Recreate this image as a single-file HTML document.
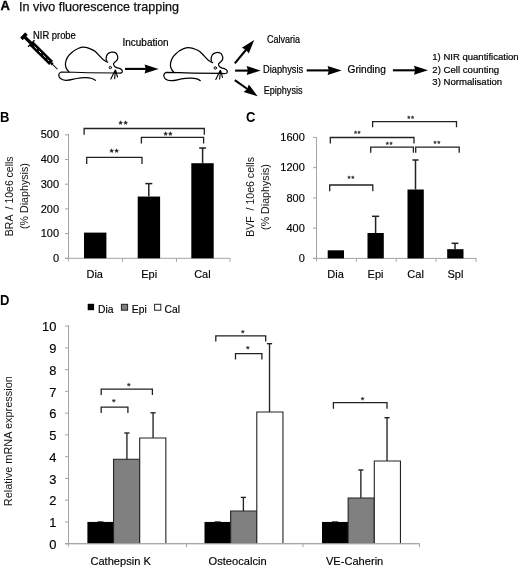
<!DOCTYPE html>
<html lang="en"><head><meta charset="utf-8"><title>Figure</title>
<style>
html,body{margin:0;padding:0;background:#fff;}
body{width:520px;height:569px;overflow:hidden;}
svg{display:block;will-change:transform;font-family:"Liberation Sans",sans-serif;}
</style></head><body>
<svg width="520" height="569" viewBox="0 0 520 569">
<rect width="520" height="569" fill="#fff"/>
<text x="0.5" y="10.3" font-size="13" text-anchor="start" font-weight="bold" fill="#000" stroke="#000" stroke-width="0.35">A</text>
<text x="19" y="11.3" font-size="12.2" text-anchor="start" font-weight="normal" fill="#111" textLength="160" lengthAdjust="spacingAndGlyphs" stroke="#111" stroke-width="0.25">In vivo fluorescence trapping</text>
<text x="33" y="38.5" font-size="10" text-anchor="start" font-weight="normal" fill="#000" textLength="42.8" lengthAdjust="spacingAndGlyphs" stroke="#000" stroke-width="0.2">NIR probe</text>
<text x="122.5" y="45.6" font-size="10" text-anchor="start" font-weight="normal" fill="#000" textLength="46" lengthAdjust="spacingAndGlyphs" stroke="#000" stroke-width="0.2">Incubation</text>
<g transform="translate(24.0,36.3) rotate(44.5)"><rect x="-1.9" y="-3.7" width="3.6" height="7.4" rx="0.6" fill="#000"/><rect x="0" y="-1.6" width="11" height="3.2" fill="#000"/><rect x="9.6" y="-4.6" width="1.3" height="9.2" fill="#000"/><rect x="10.4" y="-2.8" width="27.6" height="5.6" fill="#000"/><line x1="14.5" y1="0" x2="35" y2="0" stroke="#e8e8e8" stroke-width="0.85" stroke-dasharray="3.6 2.6"/><rect x="38" y="-1.3" width="2.2" height="2.6" fill="#000"/><line x1="40" y1="0" x2="47" y2="0" stroke="#000" stroke-width="1"/></g>
<g transform="translate(0,0)" fill="none" stroke="#000" stroke-width="1.25" stroke-linecap="round" stroke-linejoin="round"><path d="M68.8 71.8 C66.5 69.5 65 66.5 65.5 63.1 C66.2 59 68 56 70.4 53.8 C73 51 75.5 49.5 78.1 48.5 C80 47.7 81.8 47.2 83.5 47.2 C86 47.2 88.3 47.8 90.4 48.9 C92.2 49.7 93.7 50.4 95 51.3 C96.6 52.6 97.9 54.1 99.2 55.5 C100.6 57 101.9 58.5 103.4 59.8 C104.8 60.9 106.2 61.7 107.7 62.2"/><path d="M106.6 60.5 C106 59.6 105.9 58.6 106.2 57.6 C106.4 56.3 106.9 55.1 107.6 54.1 C108.5 53.1 109.7 52.5 111.2 52.2 C112.4 51.9 113.6 52 114.7 52.4 C115.8 52.9 116.6 53.7 117.1 54.8 C117.7 55.8 117.9 56.9 117.8 58 C117.7 59.1 117.2 60 116.4 60.8 C115.8 61.5 115 62 114.3 62.6 C113.6 63.2 113.3 63.9 113.6 64.7 C113.8 65.4 114.1 65.9 114.7 66.4 C115.5 67 116.5 67.5 117.5 67.8 C118.6 68.1 119.7 68.4 120.6 68.9 C121.3 69.2 121.8 69.7 122.1 70.3 C122.4 70.9 122.4 71.5 122.1 72.1 C121.8 72.6 121.2 73 120.3 73.1 C119 73.2 117.5 73.1 116.1 73"/><path d="M116.1 73 C100 72.9 80 72.6 61.2 72 C59.8 72.4 59 73.4 58.8 74.7 C58.6 76.3 59.2 77.6 60.4 78.5 C61.8 79.6 63.6 80.2 65.8 80.3 C69.5 80.4 73 79.2 76.5 78.5 C79.6 77.9 82.7 77.6 85.8 77.7 C88 77.8 90 78 91.9 78.5 C93.2 78.9 94.3 79.5 95.3 80.3"/><circle cx="110.3" cy="67.5" r="1.2" stroke-width="1"/><path d="M115.2 70.2 L110.8 79 M115.4 70.2 L114.7 78.6 M115.6 70.2 L117.5 77 M114.6 72 L116.2 72 L115.4 70 Z" stroke-width="1.1" fill="#000"/></g>
<g transform="translate(105,0.4)" fill="none" stroke="#000" stroke-width="1.25" stroke-linecap="round" stroke-linejoin="round"><path d="M68.8 71.8 C66.5 69.5 65 66.5 65.5 63.1 C66.2 59 68 56 70.4 53.8 C73 51 75.5 49.5 78.1 48.5 C80 47.7 81.8 47.2 83.5 47.2 C86 47.2 88.3 47.8 90.4 48.9 C92.2 49.7 93.7 50.4 95 51.3 C96.6 52.6 97.9 54.1 99.2 55.5 C100.6 57 101.9 58.5 103.4 59.8 C104.8 60.9 106.2 61.7 107.7 62.2"/><path d="M106.6 60.5 C106 59.6 105.9 58.6 106.2 57.6 C106.4 56.3 106.9 55.1 107.6 54.1 C108.5 53.1 109.7 52.5 111.2 52.2 C112.4 51.9 113.6 52 114.7 52.4 C115.8 52.9 116.6 53.7 117.1 54.8 C117.7 55.8 117.9 56.9 117.8 58 C117.7 59.1 117.2 60 116.4 60.8 C115.8 61.5 115 62 114.3 62.6 C113.6 63.2 113.3 63.9 113.6 64.7 C113.8 65.4 114.1 65.9 114.7 66.4 C115.5 67 116.5 67.5 117.5 67.8 C118.6 68.1 119.7 68.4 120.6 68.9 C121.3 69.2 121.8 69.7 122.1 70.3 C122.4 70.9 122.4 71.5 122.1 72.1 C121.8 72.6 121.2 73 120.3 73.1 C119 73.2 117.5 73.1 116.1 73"/><path d="M116.1 73 C100 72.9 80 72.6 61.2 72 C59.8 72.4 59 73.4 58.8 74.7 C58.6 76.3 59.2 77.6 60.4 78.5 C61.8 79.6 63.6 80.2 65.8 80.3 C69.5 80.4 73 79.2 76.5 78.5 C79.6 77.9 82.7 77.6 85.8 77.7 C88 77.8 90 78 91.9 78.5 C93.2 78.9 94.3 79.5 95.3 80.3"/><circle cx="110.3" cy="67.5" r="1.2" stroke-width="1"/><path d="M115.2 70.2 L110.8 79 M115.4 70.2 L114.7 78.6 M115.6 70.2 L117.5 77 M114.6 72 L116.2 72 L115.4 70 Z" stroke-width="1.1" fill="#000"/></g>
<line x1="125" y1="68.9" x2="146.8" y2="68.9" stroke="#000" stroke-width="2.1" />
<polygon points="158.60,68.90 144.60,73.40 145.80,68.90 144.60,64.40" fill="#000"/>
<line x1="234.8" y1="63.4" x2="246.69" y2="49.0" stroke="#000" stroke-width="2.1" />
<polygon points="254.20,39.90 248.76,53.56 246.05,49.77 241.82,47.83" fill="#000"/>
<line x1="235.1" y1="70.6" x2="248.9" y2="70.6" stroke="#000" stroke-width="2.1" />
<polygon points="260.70,70.60 246.70,75.10 247.90,70.60 246.70,66.10" fill="#000"/>
<line x1="234.8" y1="80.2" x2="248.05" y2="89.51" stroke="#000" stroke-width="2.1" />
<polygon points="257.70,96.30 243.66,91.93 247.23,88.94 248.84,84.57" fill="#000"/>
<text x="267" y="42.5" font-size="10" text-anchor="start" font-weight="normal" fill="#000" textLength="33" lengthAdjust="spacingAndGlyphs" stroke="#000" stroke-width="0.2">Calvaria</text>
<text x="263" y="72.7" font-size="10" text-anchor="start" font-weight="normal" fill="#000" textLength="40.2" lengthAdjust="spacingAndGlyphs" stroke="#000" stroke-width="0.2">Diaphysis</text>
<text x="263.75" y="94.4" font-size="10" text-anchor="start" font-weight="normal" fill="#000" textLength="38.7" lengthAdjust="spacingAndGlyphs" stroke="#000" stroke-width="0.2">Epiphysis</text>
<line x1="306.7" y1="70.4" x2="329.8" y2="70.4" stroke="#000" stroke-width="2.1" />
<polygon points="341.60,70.40 327.60,74.90 328.80,70.40 327.60,65.90" fill="#000"/>
<text x="347.5" y="72.7" font-size="10" text-anchor="start" font-weight="normal" fill="#000" textLength="38.4" lengthAdjust="spacingAndGlyphs" stroke="#000" stroke-width="0.2">Grinding</text>
<line x1="392.9" y1="70.3" x2="416.2" y2="70.3" stroke="#000" stroke-width="2.1" />
<polygon points="428.00,70.30 414.00,74.80 415.20,70.30 414.00,65.80" fill="#000"/>
<text x="432.3" y="60.3" font-size="9.8" text-anchor="start" font-weight="normal" fill="#000" textLength="86.3" lengthAdjust="spacingAndGlyphs" stroke="#000" stroke-width="0.2">1) NIR quantification</text>
<text x="432.3" y="72.8" font-size="9.8" text-anchor="start" font-weight="normal" fill="#000" textLength="66.9" lengthAdjust="spacingAndGlyphs" stroke="#000" stroke-width="0.2">2) Cell counting</text>
<text x="432.3" y="85.2" font-size="9.8" text-anchor="start" font-weight="normal" fill="#000" textLength="69.9" lengthAdjust="spacingAndGlyphs" stroke="#000" stroke-width="0.2">3) Normalisation</text>
<text x="0" y="121.7" font-size="13.8" text-anchor="start" font-weight="bold" fill="#000" textLength="9.39" lengthAdjust="spacingAndGlyphs" >B</text>
<line x1="68.5" y1="134" x2="68.5" y2="261.3" stroke="#a4a4a4" stroke-width="1" />
<line x1="65.0" y1="258.3" x2="230" y2="258.3" stroke="#a4a4a4" stroke-width="1" />
<line x1="65.0" y1="258.3" x2="68.5" y2="258.3" stroke="#a4a4a4" stroke-width="1" />
<text x="59" y="261.9" font-size="11" text-anchor="end" font-weight="normal" fill="#000" stroke="#000" stroke-width="0.15">0</text>
<line x1="65.0" y1="233.60000000000002" x2="68.5" y2="233.60000000000002" stroke="#a4a4a4" stroke-width="1" />
<text x="59" y="237.2" font-size="11" text-anchor="end" font-weight="normal" fill="#000" stroke="#000" stroke-width="0.15">100</text>
<line x1="65.0" y1="208.9" x2="68.5" y2="208.9" stroke="#a4a4a4" stroke-width="1" />
<text x="59" y="212.5" font-size="11" text-anchor="end" font-weight="normal" fill="#000" stroke="#000" stroke-width="0.15">200</text>
<line x1="65.0" y1="184.20000000000002" x2="68.5" y2="184.20000000000002" stroke="#a4a4a4" stroke-width="1" />
<text x="59" y="187.8" font-size="11" text-anchor="end" font-weight="normal" fill="#000" stroke="#000" stroke-width="0.15">300</text>
<line x1="65.0" y1="159.5" x2="68.5" y2="159.5" stroke="#a4a4a4" stroke-width="1" />
<text x="59" y="163.1" font-size="11" text-anchor="end" font-weight="normal" fill="#000" stroke="#000" stroke-width="0.15">400</text>
<line x1="65.0" y1="134.8" x2="68.5" y2="134.8" stroke="#a4a4a4" stroke-width="1" />
<text x="59" y="138.4" font-size="11" text-anchor="end" font-weight="normal" fill="#000" stroke="#000" stroke-width="0.15">500</text>
<line x1="122.5" y1="258.3" x2="122.5" y2="261.8" stroke="#a4a4a4" stroke-width="1" />
<line x1="176.5" y1="258.3" x2="176.5" y2="261.8" stroke="#a4a4a4" stroke-width="1" />
<line x1="230" y1="258.3" x2="230" y2="261.8" stroke="#a4a4a4" stroke-width="1" />
<rect x="84" y="232.60" width="22.4" height="25.70" fill="#000"/>
<rect x="137.7" y="196.55" width="22.4" height="61.75" fill="#000"/>
<rect x="191.3" y="163.21" width="22.4" height="95.09" fill="#000"/>
<line x1="148.8" y1="183.6" x2="148.8" y2="196.55" stroke="#222" stroke-width="1.5" />
<line x1="145.3" y1="183.6" x2="152.3" y2="183.6" stroke="#222" stroke-width="1.5" />
<line x1="202.6" y1="148" x2="202.6" y2="163.205" stroke="#222" stroke-width="1.5" />
<line x1="199.2" y1="148" x2="206.0" y2="148" stroke="#222" stroke-width="1.5" />
<text x="94.7" y="278.4" font-size="11" text-anchor="middle" font-weight="normal" fill="#000" stroke="#000" stroke-width="0.15">Dia</text>
<text x="149.2" y="278.4" font-size="11" text-anchor="middle" font-weight="normal" fill="#000" stroke="#000" stroke-width="0.15">Epi</text>
<text x="202.4" y="278.4" font-size="11" text-anchor="middle" font-weight="normal" fill="#000" stroke="#000" stroke-width="0.15">Cal</text>
<text transform="translate(13.3,196.3) rotate(-90)" font-size="10.7" text-anchor="middle" fill="#111" textLength="79.7" lengthAdjust="spacingAndGlyphs">BRA &#160;/ 10e6 cells</text>
<text transform="translate(28,196.1) rotate(-90)" font-size="10.7" text-anchor="middle" fill="#111" textLength="65.8" lengthAdjust="spacingAndGlyphs">(% Diaphysis)</text>
<path d="M84.1 134.8V128.5H204.3V134.8" fill="none" stroke="#222" stroke-width="1.3"/>
<text x="118.74" y="127" font-size="9.6" letter-spacing="1.25" fill="#222" stroke="#222" stroke-width="0.45" stroke-linejoin="round">**</text>
<path d="M141.4 143.4V137.3H203.6V143.4" fill="none" stroke="#222" stroke-width="1.3"/>
<text x="163.64" y="138" font-size="9.6" letter-spacing="1.25" fill="#222" stroke="#222" stroke-width="0.45" stroke-linejoin="round">**</text>
<path d="M86.7 164V157.3H142V164" fill="none" stroke="#222" stroke-width="1.3"/>
<text x="109.84" y="155" font-size="9.6" letter-spacing="1.25" fill="#222" stroke="#222" stroke-width="0.45" stroke-linejoin="round">**</text>
<text x="246" y="122.2" font-size="14.3" text-anchor="start" font-weight="bold" fill="#000" textLength="9.39" lengthAdjust="spacingAndGlyphs" >C</text>
<line x1="316.5" y1="137" x2="316.5" y2="261.4" stroke="#a4a4a4" stroke-width="1" />
<line x1="313.0" y1="258.4" x2="476.4" y2="258.4" stroke="#a4a4a4" stroke-width="1" />
<line x1="313.0" y1="258.4" x2="316.5" y2="258.4" stroke="#a4a4a4" stroke-width="1" />
<text x="304.8" y="262.0" font-size="11" text-anchor="end" font-weight="normal" fill="#000" stroke="#000" stroke-width="0.15">0</text>
<line x1="313.0" y1="228.14999999999998" x2="316.5" y2="228.14999999999998" stroke="#a4a4a4" stroke-width="1" />
<text x="304.8" y="231.75" font-size="11" text-anchor="end" font-weight="normal" fill="#000" stroke="#000" stroke-width="0.15">400</text>
<line x1="313.0" y1="197.89999999999998" x2="316.5" y2="197.89999999999998" stroke="#a4a4a4" stroke-width="1" />
<text x="304.8" y="201.5" font-size="11" text-anchor="end" font-weight="normal" fill="#000" stroke="#000" stroke-width="0.15">800</text>
<line x1="313.0" y1="167.64999999999998" x2="316.5" y2="167.64999999999998" stroke="#a4a4a4" stroke-width="1" />
<text x="304.8" y="171.25" font-size="11" text-anchor="end" font-weight="normal" fill="#000" stroke="#000" stroke-width="0.15">1200</text>
<line x1="313.0" y1="137.39999999999998" x2="316.5" y2="137.39999999999998" stroke="#a4a4a4" stroke-width="1" />
<text x="304.8" y="141.0" font-size="11" text-anchor="end" font-weight="normal" fill="#000" stroke="#000" stroke-width="0.15">1600</text>
<line x1="356.4" y1="258.4" x2="356.4" y2="261.9" stroke="#a4a4a4" stroke-width="1" />
<line x1="396.2" y1="258.4" x2="396.2" y2="261.9" stroke="#a4a4a4" stroke-width="1" />
<line x1="436.1" y1="258.4" x2="436.1" y2="261.9" stroke="#a4a4a4" stroke-width="1" />
<line x1="476" y1="258.4" x2="476" y2="261.9" stroke="#a4a4a4" stroke-width="1" />
<rect x="327.7" y="250.30" width="16.3" height="8.10" fill="#000"/>
<rect x="367.5" y="233.00" width="16.3" height="25.40" fill="#000"/>
<rect x="407.5" y="189.50" width="16.3" height="68.90" fill="#000"/>
<rect x="447.2" y="249.20" width="16.3" height="9.20" fill="#000"/>
<line x1="375.6" y1="216.3" x2="375.6" y2="233" stroke="#222" stroke-width="1.5" />
<line x1="372.0" y1="216.3" x2="379.20000000000005" y2="216.3" stroke="#222" stroke-width="1.5" />
<line x1="415.5" y1="160" x2="415.5" y2="189.5" stroke="#222" stroke-width="1.5" />
<line x1="412.4" y1="160" x2="418.6" y2="160" stroke="#222" stroke-width="1.5" />
<line x1="455" y1="243.3" x2="455" y2="249.2" stroke="#222" stroke-width="1.5" />
<line x1="451.6" y1="243.3" x2="458.4" y2="243.3" stroke="#222" stroke-width="1.5" />
<text x="335.6" y="278.2" font-size="11" text-anchor="middle" font-weight="normal" fill="#000" stroke="#000" stroke-width="0.15">Dia</text>
<text x="375.5" y="278.2" font-size="11" text-anchor="middle" font-weight="normal" fill="#000" stroke="#000" stroke-width="0.15">Epi</text>
<text x="415.6" y="278.2" font-size="11" text-anchor="middle" font-weight="normal" fill="#000" stroke="#000" stroke-width="0.15">Cal</text>
<text x="455.4" y="278.2" font-size="11" text-anchor="middle" font-weight="normal" fill="#000" stroke="#000" stroke-width="0.15">Spl</text>
<text transform="translate(254.4,196.9) rotate(-90)" font-size="10.7" text-anchor="middle" fill="#111" textLength="79.7" lengthAdjust="spacingAndGlyphs">BVF &#160;/ 10e6 cells</text>
<text transform="translate(269,197) rotate(-90)" font-size="10.7" text-anchor="middle" fill="#111" textLength="65.8" lengthAdjust="spacingAndGlyphs">(% Diaphysis)</text>
<path d="M372.6 127.3V121.6H456.5V127.3" fill="none" stroke="#222" stroke-width="1.3"/>
<text x="407.29" y="121" font-size="8" letter-spacing="0.6" fill="#222" stroke="#222" stroke-width="0.28" stroke-linejoin="round">**</text>
<path d="M330.3 143.4V137.5H414V143.4" fill="none" stroke="#222" stroke-width="1.3"/>
<text x="353.89" y="136" font-size="8" letter-spacing="0.6" fill="#222" stroke="#222" stroke-width="0.28" stroke-linejoin="round">**</text>
<path d="M370.7 152.8V147.2H413.4V152.8" fill="none" stroke="#222" stroke-width="1.3"/>
<text x="385.69" y="147" font-size="8" letter-spacing="0.6" fill="#222" stroke="#222" stroke-width="0.28" stroke-linejoin="round">**</text>
<path d="M415.7 152.8V147.2H459.2V152.8" fill="none" stroke="#222" stroke-width="1.3"/>
<text x="433.49" y="146" font-size="8" letter-spacing="0.6" fill="#222" stroke="#222" stroke-width="0.28" stroke-linejoin="round">**</text>
<path d="M329.7 191.2V185H372.8V191.2" fill="none" stroke="#222" stroke-width="1.3"/>
<text x="347.49" y="181" font-size="8" letter-spacing="0.6" fill="#222" stroke="#222" stroke-width="0.28" stroke-linejoin="round">**</text>
<text x="0" y="304.9" font-size="14" text-anchor="start" font-weight="bold" fill="#000" textLength="9.39" lengthAdjust="spacingAndGlyphs" >D</text>
<line x1="68.5" y1="325" x2="68.5" y2="546.7" stroke="#a4a4a4" stroke-width="1" />
<line x1="65.0" y1="543.7" x2="419.5" y2="543.7" stroke="#a4a4a4" stroke-width="1" />
<line x1="65.0" y1="543.7" x2="68.5" y2="543.7" stroke="#a4a4a4" stroke-width="1" />
<text x="56.4" y="549.0" font-size="12.9" text-anchor="end" font-weight="normal" fill="#000" stroke="#000" stroke-width="0.15">0</text>
<line x1="65.0" y1="521.94" x2="68.5" y2="521.94" stroke="#a4a4a4" stroke-width="1" />
<text x="56.4" y="527.24" font-size="12.9" text-anchor="end" font-weight="normal" fill="#000" stroke="#000" stroke-width="0.15">1</text>
<line x1="65.0" y1="500.18000000000006" x2="68.5" y2="500.18000000000006" stroke="#a4a4a4" stroke-width="1" />
<text x="56.4" y="505.48" font-size="12.9" text-anchor="end" font-weight="normal" fill="#000" stroke="#000" stroke-width="0.15">2</text>
<line x1="65.0" y1="478.4200000000001" x2="68.5" y2="478.4200000000001" stroke="#a4a4a4" stroke-width="1" />
<text x="56.4" y="483.72" font-size="12.9" text-anchor="end" font-weight="normal" fill="#000" stroke="#000" stroke-width="0.15">3</text>
<line x1="65.0" y1="456.66" x2="68.5" y2="456.66" stroke="#a4a4a4" stroke-width="1" />
<text x="56.4" y="461.96" font-size="12.9" text-anchor="end" font-weight="normal" fill="#000" stroke="#000" stroke-width="0.15">4</text>
<line x1="65.0" y1="434.90000000000003" x2="68.5" y2="434.90000000000003" stroke="#a4a4a4" stroke-width="1" />
<text x="56.4" y="440.2" font-size="12.9" text-anchor="end" font-weight="normal" fill="#000" stroke="#000" stroke-width="0.15">5</text>
<line x1="65.0" y1="413.14000000000004" x2="68.5" y2="413.14000000000004" stroke="#a4a4a4" stroke-width="1" />
<text x="56.4" y="418.44" font-size="12.9" text-anchor="end" font-weight="normal" fill="#000" stroke="#000" stroke-width="0.15">6</text>
<line x1="65.0" y1="391.38" x2="68.5" y2="391.38" stroke="#a4a4a4" stroke-width="1" />
<text x="56.4" y="396.68" font-size="12.9" text-anchor="end" font-weight="normal" fill="#000" stroke="#000" stroke-width="0.15">7</text>
<line x1="65.0" y1="369.62" x2="68.5" y2="369.62" stroke="#a4a4a4" stroke-width="1" />
<text x="56.4" y="374.92" font-size="12.9" text-anchor="end" font-weight="normal" fill="#000" stroke="#000" stroke-width="0.15">8</text>
<line x1="65.0" y1="347.86" x2="68.5" y2="347.86" stroke="#a4a4a4" stroke-width="1" />
<text x="56.4" y="353.16" font-size="12.9" text-anchor="end" font-weight="normal" fill="#000" stroke="#000" stroke-width="0.15">9</text>
<line x1="65.0" y1="326.1" x2="68.5" y2="326.1" stroke="#a4a4a4" stroke-width="1" />
<text x="56.4" y="331.4" font-size="12.9" text-anchor="end" font-weight="normal" fill="#000" stroke="#000" stroke-width="0.15">10</text>
<line x1="186.5" y1="543.7" x2="186.5" y2="547.2" stroke="#a4a4a4" stroke-width="1" />
<line x1="303" y1="543.7" x2="303" y2="547.2" stroke="#a4a4a4" stroke-width="1" />
<line x1="419.5" y1="543.7" x2="419.5" y2="547.2" stroke="#a4a4a4" stroke-width="1" />
<rect x="87.7" y="303.80" width="6.4" height="6.40" fill="#000"/>
<text x="98" y="312.5" font-size="10.3" text-anchor="start" font-weight="normal" fill="#000" stroke="#000" stroke-width="0.15">Dia</text>
<rect x="121.4" y="304.3" width="6.2" height="5.9" fill="#808080" stroke="#222" stroke-width="1"/>
<text x="131.8" y="312.5" font-size="10.3" text-anchor="start" font-weight="normal" fill="#000" stroke="#000" stroke-width="0.15">Epi</text>
<rect x="154.6" y="304.3" width="6.2" height="5.9" fill="#fff" stroke="#222" stroke-width="1"/>
<text x="164.6" y="312.5" font-size="10.3" text-anchor="start" font-weight="normal" fill="#000" stroke="#000" stroke-width="0.15">Cal</text>
<rect x="87.4" y="521.94" width="26.15" height="21.76" fill="#000"/>
<line x1="97.47500000000001" y1="521.6400000000001" x2="103.47500000000001" y2="521.6400000000001" stroke="#222" stroke-width="0.8" />
<path d="M113.55 543.2V459.27H139.70V543.2" fill="#808080" stroke="#222" stroke-width="1.1"/>
<line x1="126.92" y1="433" x2="126.92" y2="459.2712" stroke="#222" stroke-width="1.35" />
<line x1="124.32000000000001" y1="433" x2="129.52" y2="433" stroke="#222" stroke-width="1.35" />
<path d="M139.7 543.2V437.95H165.85V543.2" fill="#fff" stroke="#222" stroke-width="1.1"/>
<line x1="153.07" y1="412.8" x2="153.07" y2="437.94640000000004" stroke="#222" stroke-width="1.35" />
<line x1="150.47" y1="412.8" x2="155.67" y2="412.8" stroke="#222" stroke-width="1.35" />
<rect x="204.5" y="521.94" width="26.15" height="21.76" fill="#000"/>
<line x1="214.575" y1="521.6400000000001" x2="220.575" y2="521.6400000000001" stroke="#222" stroke-width="0.8" />
<path d="M230.65 543.2V511.06H256.80V543.2" fill="#808080" stroke="#222" stroke-width="1.1"/>
<line x1="243.38" y1="497.4" x2="243.38" y2="511.06000000000006" stroke="#222" stroke-width="1.35" />
<line x1="240.78" y1="497.4" x2="245.98" y2="497.4" stroke="#222" stroke-width="1.35" />
<path d="M256.8 543.2V412.05H282.95V543.2" fill="#fff" stroke="#222" stroke-width="1.1"/>
<line x1="269.52" y1="343.7" x2="269.52" y2="412.052" stroke="#222" stroke-width="1.35" />
<line x1="266.91999999999996" y1="343.7" x2="272.12" y2="343.7" stroke="#222" stroke-width="1.35" />
<rect x="322.0" y="521.94" width="26.15" height="21.76" fill="#000"/>
<line x1="332.075" y1="521.6400000000001" x2="338.075" y2="521.6400000000001" stroke="#222" stroke-width="0.8" />
<path d="M348.15 543.2V498.00H374.30V543.2" fill="#808080" stroke="#222" stroke-width="1.1"/>
<line x1="360.87" y1="470" x2="360.87" y2="498.004" stroke="#222" stroke-width="1.35" />
<line x1="358.27" y1="470" x2="363.47" y2="470" stroke="#222" stroke-width="1.35" />
<path d="M374.3 543.2V461.01H400.45V543.2" fill="#fff" stroke="#222" stroke-width="1.1"/>
<line x1="387.02" y1="417.7" x2="387.02" y2="461.01200000000006" stroke="#222" stroke-width="1.35" />
<line x1="384.41999999999996" y1="417.7" x2="389.62" y2="417.7" stroke="#222" stroke-width="1.35" />
<line x1="65.0" y1="543.7" x2="419.5" y2="543.7" stroke="#a4a4a4" stroke-width="1" />
<text x="120.6" y="564.7" font-size="11.1" text-anchor="middle" font-weight="normal" fill="#000" stroke="#000" stroke-width="0.15">Cathepsin K</text>
<text x="237.6" y="564.7" font-size="11.1" text-anchor="middle" font-weight="normal" fill="#000" stroke="#000" stroke-width="0.15">Osteocalcin</text>
<text x="354.6" y="564.7" font-size="11.1" text-anchor="middle" font-weight="normal" fill="#000" stroke="#000" stroke-width="0.15">VE-Caherin</text>
<text transform="translate(12.1,441.2) rotate(-90)" font-size="10.7" text-anchor="middle" fill="#111" textLength="130" lengthAdjust="spacingAndGlyphs">Relative mRNA expression</text>
<path d="M101.2 395V389.2H152.4V395" fill="none" stroke="#222" stroke-width="1.3"/>
<text x="127.09" y="389" font-size="9.3" letter-spacing="0" fill="#222" stroke="#222" stroke-width="0.2" stroke-linejoin="round">*</text>
<path d="M101.2 413.1V407.2H127.9V413.1" fill="none" stroke="#222" stroke-width="1.3"/>
<text x="112.04" y="405" font-size="9.3" letter-spacing="0" fill="#222" stroke="#222" stroke-width="0.2" stroke-linejoin="round">*</text>
<path d="M215.8 341.5V335.9H265.7V341.5" fill="none" stroke="#222" stroke-width="1.3"/>
<text x="240.99" y="336" font-size="9.3" letter-spacing="0" fill="#222" stroke="#222" stroke-width="0.2" stroke-linejoin="round">*</text>
<path d="M235.5 359.6V353.7H261.9V359.6" fill="none" stroke="#222" stroke-width="1.3"/>
<text x="246.09" y="352" font-size="9.3" letter-spacing="0" fill="#222" stroke="#222" stroke-width="0.2" stroke-linejoin="round">*</text>
<path d="M333.4 408.8V402.7H387V408.8" fill="none" stroke="#222" stroke-width="1.3"/>
<text x="360.69" y="403" font-size="9.3" letter-spacing="0" fill="#222" stroke="#222" stroke-width="0.2" stroke-linejoin="round">*</text>
</svg>
</body></html>
